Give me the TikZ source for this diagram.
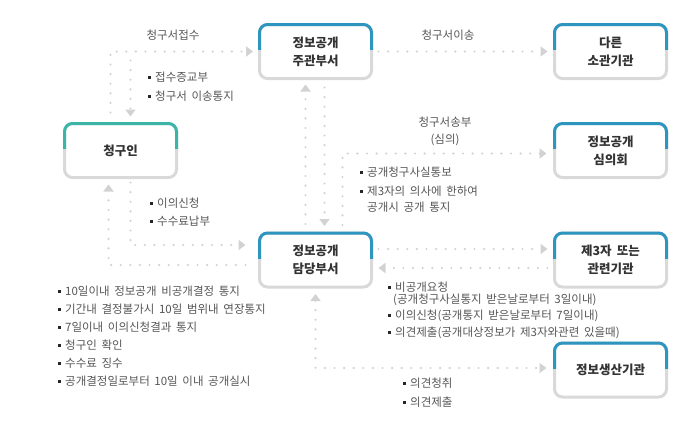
\documentclass[tikz,border=0pt]{standalone}
\usepackage{fontspec}
\setmainfont[WordSpace={1.8}]{Noto Sans CJK KR}
\usepackage{xcolor}
\usetikzlibrary{positioning, arrows.meta}

\definecolor{boxblue}{HTML}{2E95BF}
\definecolor{boxteal}{HTML}{3BB5A8}
\definecolor{boxgray}{HTML}{D9D9D9}
\definecolor{flowgray}{HTML}{D2D2D2}
\definecolor{notegray}{HTML}{555555}
\newcommand{\itm}{\textcolor{black!85}{\rule[2.5pt]{3pt}{3pt}}\hspace{4pt}}

\begin{document}
\begin{tikzpicture}[
    x=1pt, y=-1pt,
    >={Triangle[length=7pt, width=10pt]},
    every node/.style={font=\fontsize{11.5}{17}\selectfont, text=notegray, inner sep=0pt},
    unit/.style={draw=boxgray, line width=3pt, rounded corners=8pt, fill=white,
        minimum width=112pt, minimum height=54pt, align=center, outer sep=0pt,
        font=\fontsize{12.5}{18}\selectfont\bfseries, text=black!80},
    flow/.style={draw=flowgray, line width=2.4pt, line cap=round,
        dash pattern=on 0pt off 9.6pt},
    note/.style={anchor=west}
]
\useasboundingbox (0,0) rectangle (696,424);

% boxes
\node[unit] (jugwan)   at (315.5,51.5) {정보공개\\주관부서};
\node[unit] (soran)    at (610.5,51.5) {다른\\소관기관};
\node[unit] (cheongin) at (120.5,150.5) {청구인};
\node[unit] (simui)    at (610.5,150.5) {정보공개\\심의회};
\node[unit] (damdang)  at (315.5,260) {정보공개\\담당부서};
\node[unit] (je3)      at (610.5,260) {제3자 또는\\관련기관};
\node[unit] (saengsan) at (610.5,370) {정보생산기관};

% upper half of each border in colour
\foreach \n/\c in {jugwan/boxblue, soran/boxblue, cheongin/boxteal, simui/boxblue,
                   damdang/boxblue, je3/boxblue, saengsan/boxblue} {
    \begin{scope}
        \clip ([xshift=-5pt,yshift=5pt]\n.north west) rectangle ([xshift=5pt,yshift=2pt]\n.east);
        \draw[\c, line width=3pt, rounded corners=8pt] (\n.north west) rectangle (\n.south east);
    \end{scope}
}

% connectors
\draw[flow, ->, shorten <=11pt, shorten >=6.5pt]
    ([xshift=-10pt]cheongin.north) |- (jugwan.west);
\draw[flow, ->, shorten <=9pt, shorten >=7pt]
    ([xshift=10pt]cheongin.north |- jugwan.west) -- ([xshift=10pt]cheongin.north);
\draw[flow, ->, shorten <=7pt, shorten >=7pt] (jugwan.east) -- (soran.west);
\draw[flow, ->, shorten <=9pt, shorten >=6pt]
    ([xshift=-10pt]damdang.north) -- ([xshift=-10pt]jugwan.south);
\draw[flow, ->, shorten <=9pt, shorten >=7pt]
    ([xshift=9pt]jugwan.south) -- ([xshift=9pt]damdang.north);
\draw[flow, ->, shorten <=8pt, shorten >=8pt]
    ([xshift=27pt]damdang.north) |- ([yshift=-3pt]simui.west);
\draw[flow, ->, shorten <=5pt, shorten >=14pt]
    ([xshift=10pt]cheongin.south) |- ([yshift=15pt]damdang.west);
\draw[flow, ->, shorten <=14pt, shorten >=7pt]
    ([yshift=-5pt]damdang.west) -| ([xshift=-12pt]cheongin.south);
\draw[flow, ->, shorten <=7pt, shorten >=7pt]
    ([yshift=11pt]damdang.east) -- ([yshift=11pt]je3.west);
\draw[flow, ->, shorten <=7pt, shorten >=7pt]
    ([yshift=-8pt]je3.west) -- ([yshift=-8pt]damdang.east);
\draw[flow, <->, shorten <=7pt, shorten >=8pt]
    (damdang.south) |- ([yshift=2pt]saengsan.west);

% labels
\node (jeopsu) at (173,35) {청구서접수};
\node (iseong) at (448,35) {청구서이송};
\node[align=center] (songbu) at (445,131.5) {청구서송부\\(심의)};

\node[note] (n1a) at (148,77) {\itm 접수증교부};
\node[note] (n1b) at (148,96) {\itm 청구서 이송통지};

\node[note] (n2a) at (360,172) {\itm 공개청구사실통보};
\node[note] (n2b) at (360,191) {\itm 제3자의 의사에 한하여};
\node[note] (n2c) at (367,207) {공개시 공개 통지};

\node[note] (n3a) at (150,203) {\itm 이의신청};
\node[note] (n3b) at (150,221) {\itm 수수료납부};

\foreach \t [count=\i from 0] in {10일이내 정보공개 비공개결정 통지,
        기간내 결정불가시 10일 범위내 연장통지, 7일이내 이의신청결과 통지,
        청구인 확인, 수수료 징수, 공개결정일로부터 10일 이내 공개실시}
    \node[note] (res\i) at (58,291+18*\i) {\itm\t};

\node[note] (n4a) at (388,287) {\itm 비공개요청};
\node[note] (n4b) at (393,300) {(공개청구사실통지 받은날로부터 3일이내)};
\node[note] (n4c) at (388,316) {\itm 이의신청(공개통지 받은날로부터 7일이내)};
\node[note] (n4d) at (388,333) {\itm 의견제출(공개대상정보가 제3자와관련 있을때)};

\node[note] (n5a) at (403,383) {\itm 의견청취};
\node[note] (n5b) at (403,402) {\itm 의견제출};
\end{tikzpicture}
\end{document}
